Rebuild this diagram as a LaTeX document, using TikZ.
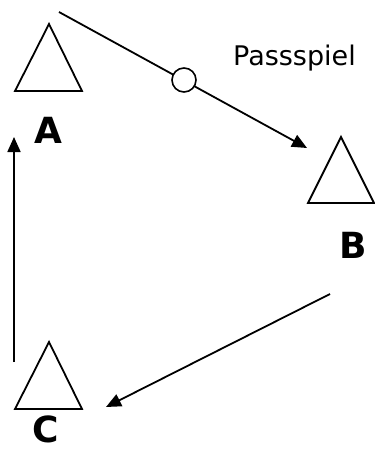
\documentclass[tikz,border=0pt]{standalone}
\usepackage{fontspec}
\setmainfont{DejaVu Sans}
\usetikzlibrary{arrows.meta}
\begin{document}
\begin{tikzpicture}[x=1pt,y=-1pt,
  player/.style={draw=black,line width=1.8pt,fill=white,line join=miter},
  pass/.style={draw=black,line width=1.8pt,-{Triangle[length=15pt,width=13pt]}},
  lbl/.style={font=\fontsize{36}{36}\selectfont\bfseries,inner sep=0pt,anchor=base},
  ball/.style={draw=black,line width=1.6pt,fill=white,circle,minimum size=24pt,inner sep=0pt}]
\useasboundingbox (0,0) rectangle (375,450);
% players (triangles)
\draw[player] (49,24) -- (82,91) -- (15,91) -- cycle;
\draw[player] (341,137) -- (374,203) -- (308,203) -- cycle;
\draw[player] (49,342) -- (82,409) -- (15,409) -- cycle;
% labels
\node[lbl] (la) at (48,143) {A};
\node[lbl] (lb) at (353.5,258) {B};
\node[lbl] (lc) at (45.5,442) {C};
\node[inner sep=0pt,anchor=base west,font=\fontsize{27}{27}\selectfont] (txt) at (233,65) {Passspiel};
% connector end points
\coordinate (a1) at (59,12);
\coordinate (a2) at (307,148);
\coordinate (b1) at (330,294);
\coordinate (b2) at (106,407);
\coordinate (c1) at (14,362);
\coordinate (c2) at (14,137);
\draw[pass] (a1) -- (a2);
\node[ball] (ball) at (184,80) {};
\draw[pass] (b1) -- (b2);
\draw[pass] (c1) -- (c2);
\end{tikzpicture}
\end{document}
